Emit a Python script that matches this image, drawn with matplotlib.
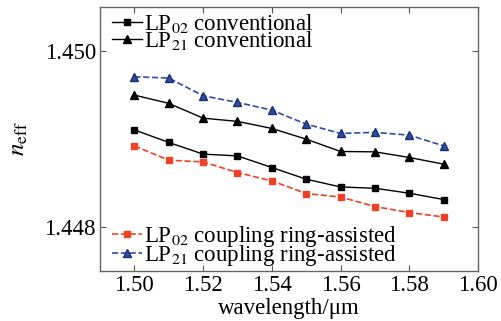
import numpy as np
from matplotlib import pyplot as plt

plt.rcParams['font.family'] = ['Liberation Serif', 'DejaVu Serif']
plt.rcParams['mathtext.fontset'] = 'stix'

wavelength = [1.50, 1.51, 1.52, 1.53, 1.54, 1.55, 1.56, 1.57, 1.58, 1.59]

lp02_conv = [1.449104, 1.448961, 1.448828, 1.448808, 1.448676,
             1.448543, 1.448455, 1.448440, 1.448384, 1.448312]
lp21_conv = [1.449499, 1.449405, 1.449237, 1.449200, 1.449120,
             1.448998, 1.448858, 1.448854, 1.448790, 1.448714]
lp02_ring = [1.448922, 1.448759, 1.448740, 1.448619, 1.448524,
             1.448380, 1.448341, 1.448232, 1.448164, 1.448114]
lp21_ring = [1.449707, 1.449693, 1.449491, 1.449416, 1.449328,
             1.449169, 1.449063, 1.449075, 1.449044, 1.448922]

red = '#ee4126'
blue = '#2b4da6'

fig = plt.figure(figsize=(5.02, 3.21), dpi=100)
ax = fig.add_axes([0.1992, 0.1558, 0.7530, 0.8224])

l1, = ax.plot(wavelength, lp02_conv, '-s', color='black', lw=1, ms=4.5)
l2, = ax.plot(wavelength, lp21_conv, '-^', color='black', lw=1, ms=5.5)
l3, = ax.plot(wavelength, lp02_ring, '--s', color=red, lw=1.2, ms=4.5)
l4, = ax.plot(wavelength, lp21_ring, '--^', color=blue, lw=1.2, ms=5.5,
              mec='#1a2f70')

ax.set_xlim(1.49, 1.60)
ax.set_ylim(1.4475, 1.4505)
ax.set_xticks([1.50, 1.52, 1.54, 1.56, 1.58, 1.60])
ax.set_xticklabels(['1.50', '1.52', '1.54', '1.56', '1.58', '1.60'])
ax.set_yticks([1.448, 1.450])
ax.set_yticklabels(['1.448', '1.450'])
ax.tick_params(direction='in', length=4, width=0.8, labelsize=16.5,
               top=True, right=True, color='#555555', pad=3)
for s in ax.spines.values():
    s.set_color('#666666')
    s.set_linewidth(1)

ax.set_xlabel('wavelength/μm', fontsize=16.5, labelpad=1)
ax.set_ylabel(r'$n_{\mathrm{eff}}$', fontsize=18, labelpad=10)

# two legends, tight row spacing like the original
leg_kw = dict(frameon=False, fontsize=16.5, handlelength=1.3,
              handletextpad=0.1, labelspacing=-0.26, borderaxespad=0.2)
leg1 = ax.legend([l1, l2], [r'LP$_{02}$ conventional', r'LP$_{21}$ conventional'],
                 loc='upper left', bbox_to_anchor=(-0.005, 1.032), **leg_kw)
ax.add_artist(leg1)
ax.legend([l3, l4], [r'LP$_{02}$ coupling ring-assisted', r'LP$_{21}$ coupling ring-assisted'],
          loc='lower left', bbox_to_anchor=(-0.005, -0.04), **leg_kw)

fig.savefig('out.png', dpi=100)
